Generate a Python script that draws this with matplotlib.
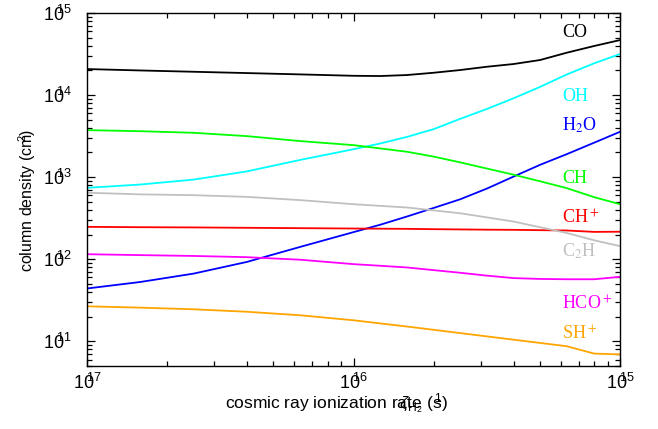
import matplotlib
matplotlib.use("Agg")
import matplotlib.pyplot as plt

plt.rcParams['font.family'] = ['Liberation Sans', 'DejaVu Sans']
plt.rcParams['mathtext.fontset'] = 'custom'
plt.rcParams['mathtext.rm'] = 'Liberation Sans'
plt.rcParams['mathtext.it'] = 'Liberation Sans:italic'
plt.rcParams['mathtext.bf'] = 'Liberation Sans:bold'

# cosmic ray ionization rate (s^-1)
rate = [1e-17, 1.585e-17, 2.512e-17, 3.981e-17, 6.31e-17, 1e-16,
        1.259e-16, 1.585e-16, 2e-16, 2.512e-16, 3.162e-16, 3.981e-16,
        5.012e-16, 6.31e-16, 8e-16, 1e-15]

# column densities (cm^-2)
co = [2.075e14, 1.995e14, 1.923e14, 1.854e14, 1.786e14, 1.718e14,
      1.706e14, 1.754e14, 1.871e14, 2.018e14, 2.213e14, 2.388e14,
      2.673e14, 3.281e14, 3.963e14, 4.677e14]
oh = [7.41e12, 8.13e12, 9.33e12, 1.175e13, 1.622e13, 2.188e13,
      2.57e13, 3.09e13, 3.846e13, 5.13e13, 6.76e13, 9.12e13,
      1.259e14, 1.78e14, 2.44e14, 3.16e14]
h2o = [4.40e11, 5.28e11, 6.68e11, 9.27e11, 1.413e12, 2.138e12,
       2.63e12, 3.31e12, 4.217e12, 5.37e12, 7.24e12, 1.014e13,
       1.413e13, 1.905e13, 2.63e13, 3.57e13]
ch = [3.74e13, 3.63e13, 3.47e13, 3.16e13, 2.75e13, 2.455e13,
      2.239e13, 2.04e13, 1.778e13, 1.514e13, 1.274e13, 1.072e13,
      8.91e12, 7.35e12, 5.70e12, 4.68e12]
chp = [2.48e12, 2.455e12, 2.44e12, 2.415e12, 2.39e12, 2.366e12,
       2.355e12, 2.344e12, 2.323e12, 2.307e12, 2.291e12, 2.28e12,
       2.259e12, 2.239e12, 2.153e12, 2.163e12]
c2h = [6.46e12, 6.17e12, 6.03e12, 5.75e12, 5.25e12, 4.68e12,
       4.467e12, 4.27e12, 3.936e12, 3.63e12, 3.236e12, 2.88e12,
       2.455e12, 2.09e12, 1.70e12, 1.445e12]
hcop = [1.151e12, 1.122e12, 1.096e12, 1.059e12, 9.86e11, 8.71e11,
        8.32e11, 7.94e11, 7.36e11, 6.84e11, 6.31e11, 5.89e11,
        5.75e11, 5.70e11, 5.70e11, 6.10e11]
shp = [2.67e11, 2.57e11, 2.455e11, 2.29e11, 2.075e11, 1.803e11,
       1.652e11, 1.514e11, 1.38e11, 1.259e11, 1.148e11, 1.047e11,
       9.55e10, 8.71e10, 7.08e10, 6.92e10]

x_ticks = [1e-17, 1e-16, 1e-15]
x_ticklabels = ['17', '16', '15']
y_ticks = [1e11, 1e12, 1e13, 1e14, 1e15]
y_ticklabels = ['11', '12', '13', '14', '15']

# (values, colour, label, label baseline in axes fraction)
series = [
    (co, 'black', 'CO', 0.932),
    (oh, '#00ffff', 'OH', 0.751),
    (h2o, '#0000ff', 'H$_2$O', 0.666),
    (ch, '#00ff00', 'CH', 0.518),
    (chp, '#ff0000', 'CH$^+$', 0.405),
    (c2h, '#c0c0c0', 'C$_2$H', 0.309),
    (hcop, '#ff00ff', 'HCO$^+$', 0.159),
    (shp, '#ffa500', 'SH$^+$', 0.074),
]

fig = plt.figure(figsize=(6.58, 4.29), dpi=100)
ax = fig.add_axes([87 / 658, 63 / 429, 533 / 658, 353 / 429])

for vals, col, name, ylab in series:
    ax.plot(rate, vals, color=col, lw=1.3)
    ax.text(0.891, ylab, name, color=col, transform=ax.transAxes,
            fontsize=13, family='Liberation Serif', math_fontfamily='stix',
            ha='left', va='baseline')

ax.set_xscale('log')
ax.set_yscale('log')
ax.set_xlim(1e-17, 1e-15)
ax.set_ylim(5e10, 1e15)

# gnuplot-style labels with the exponent squeezed onto the mantissa
ax.set_xticks(x_ticks)
ax.set_xticklabels([r'$10^{\!\!\!\!%s}$' % t for t in x_ticklabels])
ax.set_yticks(y_ticks)
ax.set_yticklabels([r'$10^{\!\!\!\!%s}$' % t for t in y_ticklabels])

ax.tick_params(which='both', direction='in', top=True, right=True, width=0.9)
ax.tick_params(which='major', length=6, labelsize=13)
ax.tick_params(which='minor', length=3.5)
ax.tick_params(axis='y', which='major', pad=11)
ax.tick_params(axis='x', which='major', pad=5)
for sp in ax.spines.values():
    sp.set_linewidth(1.0)

fig.text(337 / 658, 1 - 404 / 429,
         r'cosmic ray ionization rate$\!\!\!\!\!\!\!\!\!\zeta_{\rm H_2}$ (s$^{\!\!\!\!1}$)',
         fontsize=12.5, ha='center', va='center')
fig.text(27 / 658, 1 - 200 / 429, r'column density (cm$^{\!\!\!\!\!2}$)',
         fontsize=11.5, ha='center', va='center', rotation=90)

fig.savefig('out.png', dpi=100)
